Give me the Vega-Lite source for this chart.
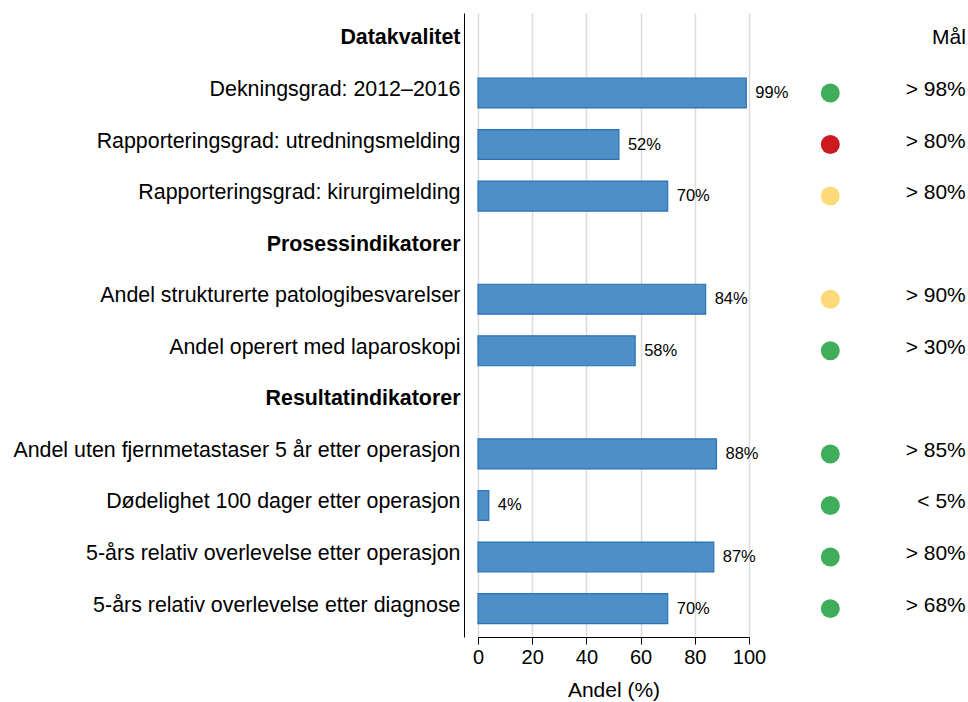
{
  "$schema": "https://vega.github.io/schema/vega-lite/v6.json",
  "width": 271,
  "height": 624,
  "autosize": "none",
  "padding": {"left": 478, "top": 13, "right": 219, "bottom": 65},
  "config": {
    "view": {"stroke": null},
    "font": "Liberation Sans",
    "text": {"font": "Liberation Sans", "color": "#000000"}
  },
  "data": {
    "values": [
      {"nr": 1, "indikator": "Datakvalitet", "andel": null, "status": null, "mal": "Mål"},
      {"nr": 2, "indikator": "Dekningsgrad: 2012–2016", "andel": 99, "status": "god", "mal": "> 98%"},
      {"nr": 3, "indikator": "Rapporteringsgrad: utredningsmelding", "andel": 52, "status": "lav", "mal": "> 80%"},
      {"nr": 4, "indikator": "Rapporteringsgrad: kirurgimelding", "andel": 70, "status": "middels", "mal": "> 80%"},
      {"nr": 5, "indikator": "Prosessindikatorer", "andel": null, "status": null, "mal": ""},
      {"nr": 6, "indikator": "Andel strukturerte patologibesvarelser", "andel": 84, "status": "middels", "mal": "> 90%"},
      {"nr": 7, "indikator": "Andel operert med laparoskopi", "andel": 58, "status": "god", "mal": "> 30%"},
      {"nr": 8, "indikator": "Resultatindikatorer", "andel": null, "status": null, "mal": ""},
      {"nr": 9, "indikator": "Andel uten fjernmetastaser 5 år etter operasjon", "andel": 88, "status": "god", "mal": "> 85%"},
      {"nr": 10, "indikator": "Dødelighet 100 dager etter operasjon", "andel": 4, "status": "god", "mal": "< 5%"},
      {"nr": 11, "indikator": "5-års relativ overlevelse etter operasjon", "andel": 87, "status": "god", "mal": "> 80%"},
      {"nr": 12, "indikator": "5-års relativ overlevelse etter diagnose", "andel": 70, "status": "god", "mal": "> 68%"}
    ]
  },
  "encoding": {
    "y": {
      "field": "indikator",
      "type": "nominal",
      "sort": {"field": "nr", "op": "min"},
      "scale": {"paddingInner": 0.42, "paddingOuter": 0.26},
      "axis": {
        "title": null,
        "grid": false,
        "domain": true,
        "domainColor": "#000000",
        "domainWidth": 1,
        "offset": 14,
        "ticks": false,
        "labelPadding": 4,
        "labelFontSize": 21.4,
        "labelColor": "#000000",
        "labelLimit": 0,
        "labelOffset": -3,
        "labelFontWeight": {
          "condition": {
            "test": "indexof(['Datakvalitet', 'Prosessindikatorer', 'Resultatindikatorer'], datum.value) >= 0",
            "value": "bold"
          },
          "value": "normal"
        }
      }
    }
  },
  "layer": [
    {
      "mark": {"type": "bar", "fill": "#4f8fc7", "stroke": "#2b72b9", "strokeWidth": 1.2},
      "encoding": {
        "x": {
          "field": "andel",
          "type": "quantitative",
          "scale": {"domain": [0, 100], "nice": false},
          "axis": {
            "title": "Andel (%)",
            "values": [0, 20, 40, 60, 80, 100],
            "grid": true,
            "gridColor": "#dcdcdc",
            "gridWidth": 1.5,
            "domainColor": "#000000",
            "domainWidth": 1,
            "tickColor": "#000000",
            "tickSize": 7,
            "labelFontSize": 20,
            "labelFlush": false,
            "labelColor": "#000000",
            "labelPadding": 3,
            "titleFontSize": 21,
            "titleFontWeight": "normal",
            "titleColor": "#000000",
            "titlePadding": 12
          }
        }
      }
    },
    {
      "transform": [
        {"filter": "isValid(datum.andel)"},
        {"calculate": "datum.andel + '%'", "as": "andelTekst"}
      ],
      "mark": {"type": "text", "align": "left", "baseline": "middle", "dx": 9, "fontSize": 16.5},
      "encoding": {
        "x": {"field": "andel", "type": "quantitative"},
        "text": {"field": "andelTekst", "type": "nominal"}
      }
    },
    {
      "transform": [{"filter": "isValid(datum.status)"}],
      "mark": {"type": "circle", "size": 360, "opacity": 1},
      "encoding": {
        "x": {"datum": 130},
        "color": {
          "field": "status",
          "type": "nominal",
          "scale": {"domain": ["god", "middels", "lav"], "range": ["#40ad5a", "#fed978", "#cc1b1f"]},
          "legend": null
        }
      }
    },
    {
      "mark": {"type": "text", "align": "right", "baseline": "middle", "dy": -3, "fontSize": 21},
      "encoding": {
        "x": {"datum": 180},
        "text": {"field": "mal", "type": "nominal"}
      }
    }
  ]
}
